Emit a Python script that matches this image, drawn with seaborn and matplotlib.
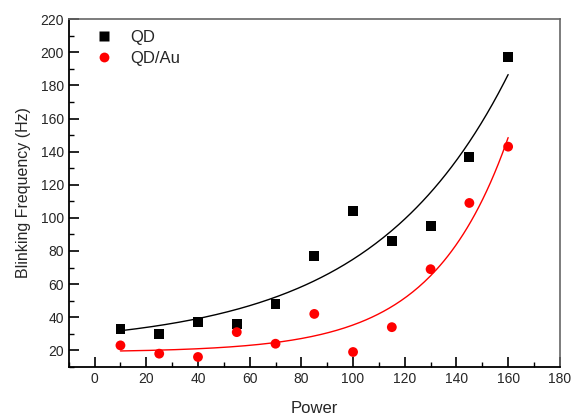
import numpy as np
import pandas as pd
import matplotlib
matplotlib.use("Agg")
import matplotlib.pyplot as plt
import seaborn as sns
from matplotlib.ticker import MultipleLocator

power = [10, 25, 40, 55, 70, 85, 100, 115, 130, 145, 160]
qd = [33, 30, 37, 36, 48, 77, 104, 86, 95, 137, 197]
qd_au = [23, 18, 16, 31, 24, 42, 19, 34, 69, 109, 143]
series_names = ["QD", "QD/Au"]
xticks = list(range(0, 181, 20))
yticks = list(range(20, 221, 20))

sns.set_theme(style="ticks")
plt.rcParams['font.family'] = ['Liberation Sans', 'DejaVu Sans']

df = pd.DataFrame({
    "Power": power * 2,
    "Freq": qd + qd_au,
    "Sample": [series_names[0]] * len(power) + [series_names[1]] * len(power),
})


def exp_fit(x, y):
    # y = y0 + A*exp(x/t); grid search over t, linear least squares for y0, A
    x = np.asarray(x, float)
    y = np.asarray(y, float)
    best = None
    for t in np.linspace(5, 500, 5000):
        M = np.column_stack([np.ones_like(x), np.exp(x / t)])
        coef, *_ = np.linalg.lstsq(M, y, rcond=None)
        r = np.sum((M @ coef - y) ** 2)
        if best is None or r < best[0]:
            best = (r, t, coef)
    _, t, coef = best
    return lambda xx: coef[0] + coef[1] * np.exp(np.asarray(xx) / t)


xf = np.linspace(min(power), max(power), 200)
fits = []
for name, ys in zip(series_names, [qd, qd_au]):
    f = exp_fit(power, ys)
    fits.append(pd.DataFrame({"Power": xf, "Freq": f(xf), "Sample": name}))
fit_df = pd.concat(fits)

fig = plt.figure(figsize=(5.73, 4.16), dpi=100)
ax = fig.add_axes([0.120, 0.118, 0.857, 0.836])

palette = {"QD": "black", "QD/Au": "#ff0000"}
sns.lineplot(data=fit_df, x="Power", y="Freq", hue="Sample", palette=palette,
             linewidth=1.0, legend=False, ax=ax)
sns.scatterplot(data=df, x="Power", y="Freq", hue="Sample", style="Sample",
                markers={"QD": "s", "QD/Au": "o"}, palette=palette,
                s=50, edgecolor="none", ax=ax)

ax.set_xlim(-10, 180)
ax.set_ylim(10, 220)
ax.set_xticks(xticks)
ax.set_yticks(yticks)
ax.xaxis.set_minor_locator(MultipleLocator(10))
ax.yaxis.set_minor_locator(MultipleLocator(10))
ax.tick_params(which="major", direction="in", length=7, width=1.2, labelsize=10,
               top=False, right=False, color="black")
ax.tick_params(which="minor", direction="in", length=3.5, width=1.0,
               top=False, right=False, color="black")
for s in ["left", "bottom"]:
    ax.spines[s].set_color("black")
    ax.spines[s].set_linewidth(1.3)
for s in ["top", "right"]:
    ax.spines[s].set_visible(True)
    ax.spines[s].set_color("#666666")
    ax.spines[s].set_linewidth(1.2)

ax.set_xlabel("Power", fontsize=12, labelpad=11)
ax.set_ylabel("Blinking Frequency (Hz)", fontsize=11.5, labelpad=7)

leg = ax.legend(loc="upper left", frameon=False, fontsize=12,
                bbox_to_anchor=(0.021, 1.012), handlelength=1.2,
                handletextpad=1.0, labelspacing=0.35)

fig.savefig("out.png", dpi=100)
